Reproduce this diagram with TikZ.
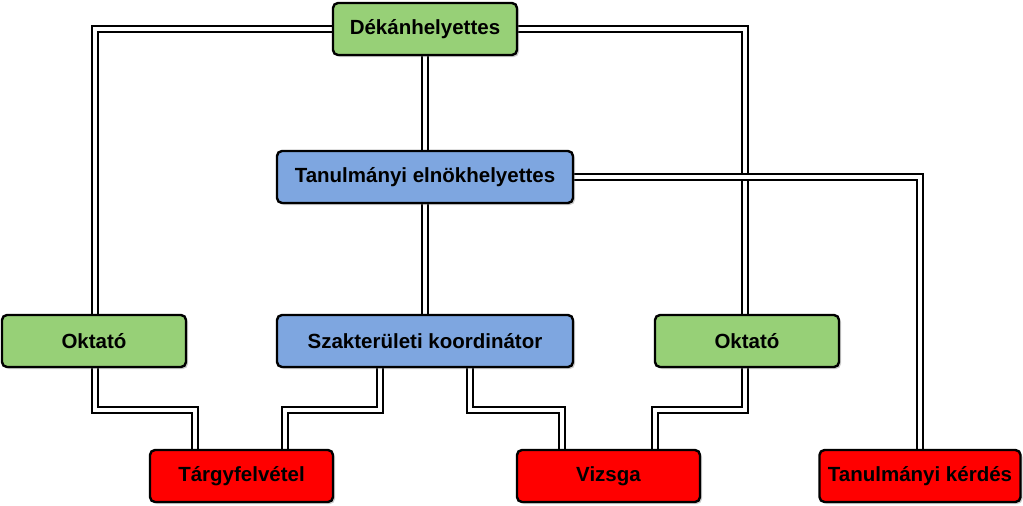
\documentclass[tikz,border=0pt]{standalone}
\usepackage{fontspec}
\setmainfont{Liberation Sans}
\usetikzlibrary{shadows}
\begin{document}
\begin{tikzpicture}[x=1pt,y=-1pt,
  box/.style={draw=black,line width=2.4pt,rounded corners=5pt,minimum height=52pt,inner sep=0pt,font=\bfseries\fontsize{20.5}{24}\selectfont,drop shadow={shadow xshift=2pt,shadow yshift=-2pt,opacity=0.4}},
  green/.style={box,fill={rgb,255:red,151;green,208;blue,119}},
  blue/.style={box,fill={rgb,255:red,126;green,166;blue,224}},
  red/.style={box,fill={rgb,255:red,255;green,0;blue,0}},
  conn/.style={draw=black,line width=2.2pt,double=white,double distance=4pt}]
\useasboundingbox (0,0) rectangle (1023,506);
\coordinate (dk) at (425,29);
\coordinate (tu) at (425,177);
\coordinate (sz) at (425,341);
\coordinate (ol) at (95,341);
\coordinate (or) at (745,341);
\coordinate (tf) at (241,476);
\coordinate (vz) at (608,476);
\coordinate (tk) at (920,476);
\draw[conn] (dk) -| (ol);
\draw[conn] (dk) -| (or);
\draw[conn] (dk) -- (sz);
\draw[conn] (tu) -| (tk);
\draw[conn] (ol) |- (195,410) -- (195,476);
\draw[conn] (380,341) |- (285,410) -- (285,476);
\draw[conn] (470,341) |- (562,410) -- (562,476);
\draw[conn] (or) |- (655,410) -- (655,476);
\node[green,minimum width=184pt] (n1) at (425,29) {Dékánhelyettes};
\node[blue,minimum width=296pt] (n2) at (425,177) {Tanulmányi elnökhelyettes};
\node[green,minimum width=184pt] (n3) at (94,341) {Oktató};
\node[blue,minimum width=296pt] (n4) at (425,341) {Szakterületi koordinátor};
\node[green,minimum width=184pt] (n5) at (747,341) {Oktató};
\node[red,minimum width=183pt] (n6) at (241.5,476) {Tárgyfelvétel};
\node[red,minimum width=183pt] (n7) at (608.5,476) {Vizsga};
\node[red,minimum width=201pt] (n8) at (920,476) {Tanulmányi kérdés};
\end{tikzpicture}
\end{document}
